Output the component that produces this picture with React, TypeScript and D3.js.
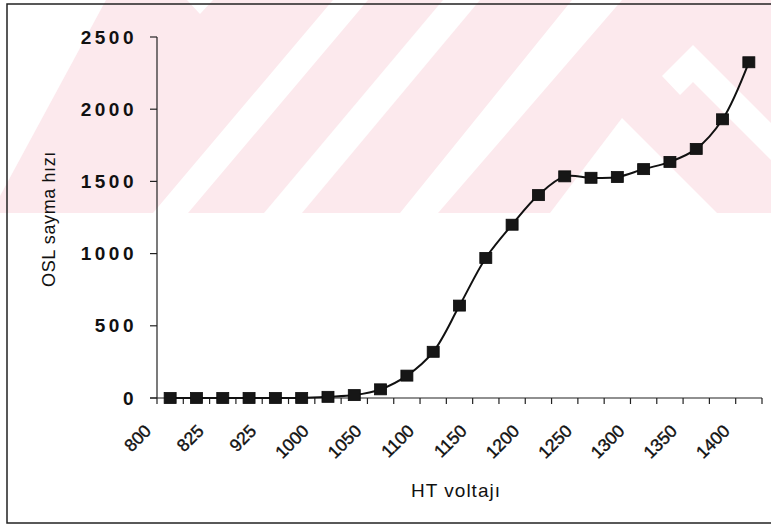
import * as d3 from "d3"

const categories = [
  "800", "812", "825", "875", "925", "975", "1000", "1025", "1050", "1075", "1100", "1125",
  "1150", "1175", "1200", "1225", "1250", "1275", "1300", "1325", "1350", "1375", "1400",
]
const counts = [
  0, 0, 0, 0, 0, 0, 8, 20, 60, 155, 320, 640, 970, 1200, 1405, 1535, 1525, 1530, 1585, 1635,
  1725, 1930, 2325,
]
const yTicks = [0, 500, 1000, 1500, 2000, 2500]

const W = 771
const H = 526
const margin = { top: 37, right: 9, bottom: 128, left: 157 }

// watermark shapes (pink band with white stripes), background only
const stripes: [number, number][][] = [
  [[0, 0], [106, 0], [0, 196]],
  [[187, 0], [213, 0], [200, 14]],
  [[333, 0], [368, 0], [188, 213], [153, 213]],
  [[443, 0], [480, 0], [302, 213], [264, 213]],
  [[572, 0], [622, 0], [438, 213], [400, 213]],
  [[662, 76], [693, 45], [771, 123], [771, 160], [693, 82], [680, 95]],
  [[622, 118], [550, 213], [717, 213]],
]

export default function App() {
  const x = d3.scaleBand<string>().domain(categories).range([margin.left, W - margin.right]).padding(0)
  const y = d3.scaleLinear().domain([0, 2500]).range([H - margin.bottom, margin.top])
  const cx = (c: string) => (x(c) as number) + x.bandwidth() / 2

  const line = d3
    .line<number>()
    .x((_, i) => cx(categories[i]))
    .y((d) => y(d))
    .curve(d3.curveCatmullRom.alpha(0.5))

  const y0 = y(0)
  const boundaries = d3.range(categories.length + 1).map((i) => margin.left + i * x.bandwidth())

  return (
    <svg
      width={W}
      height={H}
      style={{ position: "absolute", left: 0, top: 0, background: "#fff" }}
      fontFamily="'Liberation Sans', Arial, sans-serif"
    >
      <rect x={0} y={0} width={W} height={213} fill="#fce9ed" />
      {stripes.map((p, i) => (
        <polygon key={i} points={p.map((q) => q.join(",")).join(" ")} fill="#fff" />
      ))}

      <rect x={7} y={4} width={W} height={519} fill="none" stroke="#222" strokeWidth={1.5} />

      {/* y axis */}
      <line x1={margin.left} x2={margin.left} y1={y(2500)} y2={y0} stroke="#222" strokeWidth={1.2} />
      {yTicks.map((t) => (
        <g key={t}>
          <line x1={margin.left - 7} x2={margin.left} y1={y(t)} y2={y(t)} stroke="#222" strokeWidth={1.2} />
          <text
            x={137}
            y={y(t)}
            textAnchor="end"
            dominantBaseline="central"
            fontSize={19}
            fontWeight="bold"
            letterSpacing={3.5}
            fill="#111"
          >
            {t}
          </text>
        </g>
      ))}

      {/* x axis */}
      <line x1={margin.left - 7} x2={boundaries[boundaries.length - 1]} y1={y0} y2={y0} stroke="#222" strokeWidth={1.2} />
      {boundaries.map((b, i) => (
        <line key={i} x1={b} x2={b} y1={y0} y2={y0 + 6} stroke="#222" strokeWidth={1.2} />
      ))}
      {categories.map((c, i) =>
        i % 2 === 0 ? (
          <text
            key={c}
            transform={`translate(${cx(c) - 18},${432}) rotate(-45)`}
            textAnchor="end"
            fontSize={17.5}
            fill="#111"
            stroke="#111"
            strokeWidth={0.4}
          >
            {c}
          </text>
        ) : null,
      )}

      {/* series */}
      <path d={line(counts) ?? ""} fill="none" stroke="#111" strokeWidth={2} />
      {counts.map((v, i) => (
        <rect
          key={i}
          x={cx(categories[i]) - 6}
          y={y(v) - 5.5}
          width={12}
          height={11}
          fill="#161616"
          stroke="#0a0a0a"
          strokeWidth={0.8}
        />
      ))}

      <text
        transform={`translate(55,219) rotate(-90)`}
        textAnchor="middle"
        fontSize={18}
        letterSpacing={0.6}
        fill="#111"
      >
        OSL sayma hızı
      </text>
      <text x={456} y={497} textAnchor="middle" fontSize={19} letterSpacing={1} fill="#111">
        HT voltajı
      </text>
    </svg>
  )
}
